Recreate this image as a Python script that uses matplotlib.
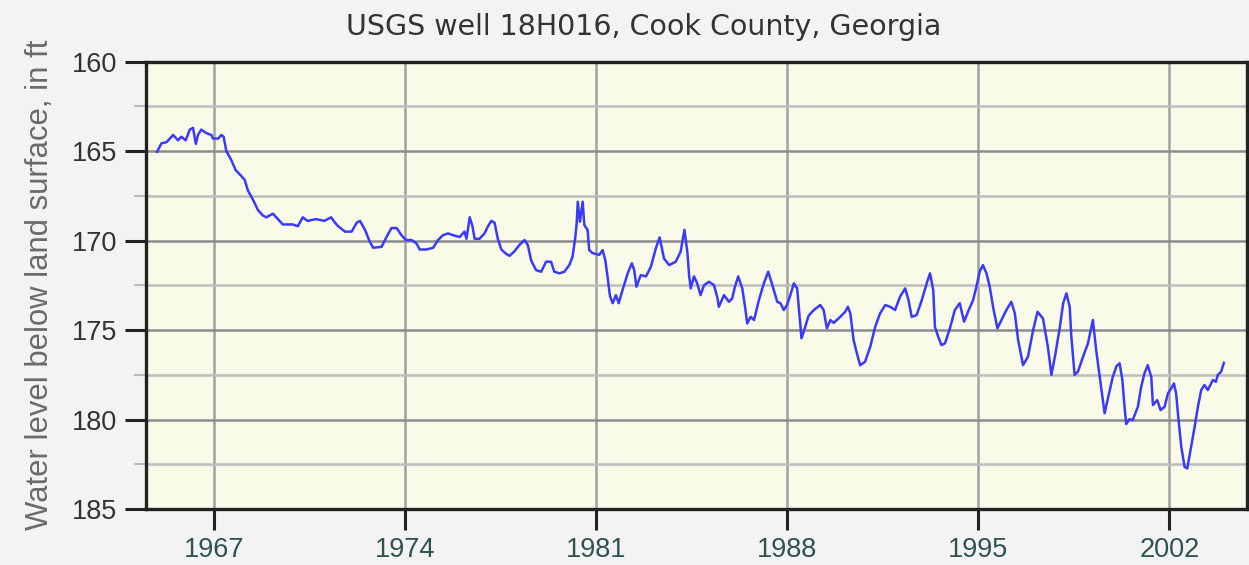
import matplotlib.pyplot as plt
from matplotlib.ticker import MultipleLocator

# Water level readings (decimal year, ft below land surface)
years = [
    1964.90, 1965.06, 1965.25, 1965.49, 1965.67, 1965.79, 1965.95, 1966.10, 1966.22, 1966.32,
    1966.40, 1966.52, 1966.71, 1966.89, 1966.95, 1967.14, 1967.26, 1967.34, 1967.44, 1967.62,
    1967.78, 1967.93, 1968.11, 1968.23, 1968.41, 1968.60, 1968.78, 1968.90, 1969.15, 1969.33,
    1969.51, 1969.88, 1970.06, 1970.24, 1970.42, 1970.73, 1971.03, 1971.28, 1971.42, 1971.54,
    1971.79, 1972.03, 1972.22, 1972.34, 1972.52, 1972.70, 1972.82, 1973.13, 1973.31, 1973.49,
    1973.68, 1973.86, 1974.02, 1974.23, 1974.41, 1974.53, 1974.77, 1975.02, 1975.20, 1975.38,
    1975.56, 1975.75, 1975.99, 1976.17, 1976.24, 1976.36, 1976.46, 1976.54, 1976.72, 1976.90,
    1977.03, 1977.15, 1977.27, 1977.39, 1977.52, 1977.70, 1977.82, 1978.00, 1978.18, 1978.37,
    1978.49, 1978.61, 1978.79, 1978.98, 1979.16, 1979.34, 1979.46, 1979.65, 1979.83, 1980.01,
    1980.13, 1980.23, 1980.28, 1980.32, 1980.40, 1980.50, 1980.56, 1980.68, 1980.74, 1980.86,
    1981.11, 1981.23, 1981.33, 1981.41, 1981.50, 1981.60, 1981.72, 1981.82, 1981.96, 1982.15,
    1982.30, 1982.39, 1982.47, 1982.63, 1982.82, 1983.00, 1983.18, 1983.32, 1983.48, 1983.67,
    1983.91, 1984.09, 1984.23, 1984.34, 1984.40, 1984.46, 1984.58, 1984.70, 1984.82, 1984.95,
    1985.13, 1985.31, 1985.43, 1985.49, 1985.68, 1985.86, 1985.98, 1986.08, 1986.20, 1986.35,
    1986.47, 1986.53, 1986.66, 1986.78, 1986.96, 1987.14, 1987.30, 1987.47, 1987.63, 1987.75,
    1987.87, 1987.99, 1988.11, 1988.24, 1988.36, 1988.42, 1988.52, 1988.64, 1988.78, 1988.97,
    1989.21, 1989.33, 1989.45, 1989.58, 1989.70, 1989.94, 1990.12, 1990.22, 1990.31, 1990.43,
    1990.55, 1990.67, 1990.85, 1991.04, 1991.22, 1991.40, 1991.59, 1991.77, 1991.95, 1992.13,
    1992.32, 1992.44, 1992.56, 1992.74, 1992.93, 1993.11, 1993.23, 1993.35, 1993.41, 1993.53,
    1993.65, 1993.78, 1993.96, 1994.14, 1994.32, 1994.48, 1994.63, 1994.81, 1994.93, 1995.05,
    1995.17, 1995.30, 1995.42, 1995.54, 1995.70, 1995.85, 1996.03, 1996.21, 1996.34, 1996.46,
    1996.64, 1996.82, 1997.01, 1997.17, 1997.37, 1997.55, 1997.68, 1997.83, 1997.99, 1998.11,
    1998.23, 1998.35, 1998.41, 1998.53, 1998.65, 1998.84, 1999.02, 1999.20, 1999.32, 1999.45,
    1999.63, 1999.75, 1999.93, 2000.07, 2000.18, 2000.28, 2000.36, 2000.42, 2000.54, 2000.66,
    2000.85, 2000.97, 2001.09, 2001.21, 2001.34, 2001.40, 2001.56, 2001.68, 2001.83, 2001.95,
    2002.07, 2002.17, 2002.25, 2002.34, 2002.44, 2002.56, 2002.66, 2002.78, 2002.93, 2003.05,
    2003.17, 2003.29, 2003.41, 2003.60, 2003.71, 2003.78, 2003.90, 2004.00,
]
levels = [
    165.04, 164.57, 164.50, 164.10, 164.40, 164.20, 164.40, 163.80, 163.70, 164.60,
    164.10, 163.80, 164.00, 164.10, 164.30, 164.30, 164.10, 164.20, 165.00, 165.50,
    166.06, 166.30, 166.60, 167.20, 167.70, 168.30, 168.60, 168.70, 168.50, 168.80,
    169.10, 169.10, 169.20, 168.70, 168.90, 168.80, 168.90, 168.70, 169.00, 169.20,
    169.50, 169.50, 169.00, 168.90, 169.40, 170.07, 170.40, 170.35, 169.80, 169.30,
    169.30, 169.70, 169.97, 169.97, 170.16, 170.50, 170.50, 170.40, 169.97, 169.70,
    169.60, 169.70, 169.80, 169.50, 169.90, 168.70, 169.20, 169.90, 169.90, 169.60,
    169.20, 168.90, 169.00, 169.90, 170.50, 170.75, 170.85, 170.60, 170.25, 169.97,
    170.25, 171.10, 171.65, 171.74, 171.18, 171.18, 171.74, 171.83, 171.74, 171.37,
    170.90, 169.80, 169.04, 167.83, 168.95, 167.83, 169.13, 169.41, 170.53, 170.70,
    170.80, 170.53, 171.10, 172.00, 173.10, 173.50, 173.05, 173.50, 172.77, 171.83,
    171.27, 171.65, 172.58, 171.93, 172.00, 171.46, 170.44, 169.82, 171.00, 171.37,
    171.18, 170.62, 169.40, 170.70, 171.93, 172.67, 172.00, 172.40, 173.05, 172.49,
    172.30, 172.49, 173.14, 173.70, 173.05, 173.42, 173.23, 172.58, 172.00, 172.67,
    173.90, 174.63, 174.26, 174.44, 173.32, 172.39, 171.74, 172.58, 173.42, 173.50,
    173.88, 173.60, 173.05, 172.39, 172.67, 173.70, 175.46, 174.90, 174.20, 173.88,
    173.60, 173.88, 174.90, 174.44, 174.60, 174.26, 173.98, 173.70, 174.07, 175.56,
    176.30, 176.96, 176.77, 175.93, 174.82, 174.07, 173.60, 173.70, 173.88, 173.14,
    172.67, 173.32, 174.26, 174.16, 173.32, 172.39, 171.83, 172.77, 174.82, 175.37,
    175.84, 175.74, 174.90, 173.88, 173.50, 174.53, 173.95, 173.32, 172.58, 171.74,
    171.37, 171.83, 172.58, 173.70, 174.90, 174.44, 173.88, 173.42, 174.07, 175.56,
    176.96, 176.49, 175.00, 173.98, 174.35, 175.93, 177.50, 176.30, 174.82, 173.50,
    172.95, 173.70, 175.37, 177.50, 177.33, 176.49, 175.74, 174.44, 176.12, 177.61,
    179.65, 178.82, 177.61, 177.00, 176.86, 177.79, 179.28, 180.25, 179.98, 180.03,
    179.28, 178.17, 177.42, 176.96, 177.61, 179.19, 178.91, 179.47, 179.28, 178.54,
    178.26, 177.98, 178.54, 180.03, 181.52, 182.64, 182.73, 181.70, 180.40, 179.28,
    178.35, 178.07, 178.35, 177.79, 177.89, 177.50, 177.33, 176.83,
]

year_ticks = [1967, 1974, 1981, 1988, 1995, 2002]
level_ticks = [160, 165, 170, 175, 180, 185]

plt.rcParams['font.family'] = ['Liberation Sans', 'DejaVu Sans']

fig = plt.figure(figsize=(12.49, 5.65), dpi=100, facecolor='#f3f3f3')
ax = fig.add_axes([0.117, 0.099, 0.881, 0.792])
ax.set_facecolor('#fafae9')

ax.plot(years, levels, color='#3a3aff', linewidth=1.8, zorder=3)

ax.set_xlim(1964.5, 2004.83)
ax.set_ylim(185, 160)

ax.set_xticks(year_ticks)
ax.set_xticklabels([str(y) for y in year_ticks])
ax.set_yticks(level_ticks)
ax.yaxis.set_minor_locator(MultipleLocator(2.5))

ax.grid(True, which='major', axis='y', color='#8c8c8c', linewidth=1.8, zorder=1)
ax.grid(True, which='minor', axis='y', color='#bdbdbd', linewidth=1.8, zorder=1)
ax.grid(True, which='major', axis='x', color='#a0a0a0', linewidth=1.8, zorder=1)

ax.tick_params(axis='y', which='major', length=15, width=2.2, color='#222222',
               labelsize=19.5, labelcolor='#333333', pad=6)
ax.tick_params(axis='y', which='minor', length=9, width=1.5, color='#bbbbbb')
ax.tick_params(axis='x', which='major', length=15, width=2.2, color='#222222',
               labelsize=19.5, labelcolor='#2f5252', pad=5)

for side in ['left', 'bottom', 'top', 'right']:
    ax.spines[side].set_color('#222222')
    ax.spines[side].set_linewidth(2.4)

fig.text(0.515, 0.952, 'USGS well 18H016, Cook County, Georgia', ha='center', va='center',
         fontsize=20.5, color='#333333', family=['DejaVu Sans'])
fig.text(0.032, 0.496, 'Water level below land surface, in ft', ha='center', va='center',
         rotation=90, fontsize=22.3, color='#6a6a6a')

fig.savefig('out.png', dpi=100, facecolor=fig.get_facecolor())
